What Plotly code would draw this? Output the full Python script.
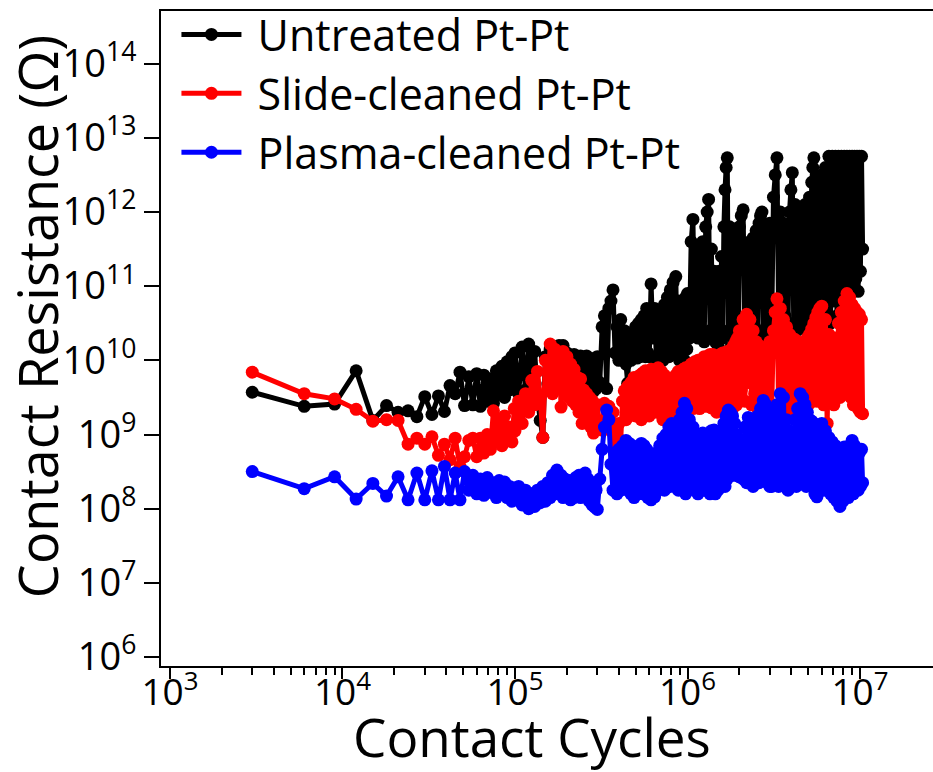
import plotly.graph_objects as go

# Contact cycles (in thousands of cycles)
cycles_k = (
    [3, 6, 9, 12, 15, 18, 21, 24, 27, 30, 33, 36, 39, 42, 45, 48, 51, 54, 57, 60,
     63, 66, 69, 72, 75, 78, 81, 84, 87, 90, 93, 96, 99]
    + [100, 105, 110, 115, 120, 125, 130, 135, 140, 145, 150, 155, 160, 165, 170,
       175, 180, 185, 190, 195, 200, 205, 210, 215, 220, 225, 230, 235, 240, 245,
       250, 255, 260, 265, 270, 275, 280, 285, 290, 295]
    + [300, 310, 320, 330, 340, 350, 360, 370, 380, 390, 400, 410, 420, 430, 440,
       450, 460, 470, 480, 490, 500, 510, 520, 530, 540, 550, 560, 570, 580, 590]
    + [600, 615, 630, 645, 660, 675, 690, 705, 720, 735, 750, 765, 780, 795, 810,
       825, 840, 855, 870, 885, 900, 915, 930, 945, 960, 975, 990]
    + [1000, 1025, 1050, 1075, 1100, 1125, 1150, 1175, 1200, 1225, 1250, 1275,
       1300, 1325, 1350, 1375, 1400, 1425, 1450, 1475, 1500, 1525, 1550, 1575,
       1600, 1625, 1650, 1675, 1700, 1725, 1750, 1775, 1800, 1825, 1850, 1875,
       1900, 1925, 1950, 1975, 2000]
    + [2050, 2100, 2150, 2200, 2250, 2300, 2350, 2400, 2450, 2500, 2550, 2600,
       2650, 2700, 2750, 2800, 2850, 2900, 2950, 3000]
    + [3075, 3150, 3225, 3300, 3375, 3450, 3525, 3600, 3675, 3750, 3825, 3900,
       3975, 4050, 4125, 4200, 4275, 4350, 4425, 4500, 4575, 4650, 4725, 4800,
       4875, 4950, 5025, 5100, 5175, 5250, 5325, 5400, 5475, 5550, 5625, 5700,
       5775, 5850, 5925, 6000]
    + [6150, 6300, 6450, 6600, 6750, 6900, 7050, 7200, 7350, 7500, 7650, 7800,
       7950, 8100, 8250, 8400, 8550, 8700, 8850, 9000, 9150, 9300, 9450, 9600,
       9750, 9900, 10050, 10200, 10350]
)

# log10 of contact resistance (Ohm)
untreated_log = (
    [9.57, 9.38, 9.41, 9.86, 9.19, 9.39, 9.30, 9.32, 9.24, 9.51, 9.27, 9.52, 9.31,
     9.66, 9.55, 9.84, 9.39, 9.78, 9.40, 9.82, 9.38, 9.80, 9.45, 9.75, 9.42, 9.86,
     9.55, 9.92, 9.50, 9.98, 9.60, 10.05, 9.62]
    + [10.10, 9.55, 10.18, 9.60, 10.22, 9.65, 10.12, 9.50, 9.19, 8.96, 10.05, 9.68,
       10.15, 9.62, 10.18, 9.70, 10.20, 9.65, 10.20, 9.72, 10.10, 9.60, 10.05, 9.65,
       10.08, 9.58, 10.02, 9.70, 10.06, 9.62, 10.00, 9.68, 10.06, 9.60, 9.98, 9.65,
       10.02, 9.58, 9.95, 9.62]
    + [10.05, 9.70, 10.45, 10.60, 9.62, 10.70, 10.80, 10.95, 10.10, 10.45, 10.00,
       10.55, 10.05, 10.40, 9.95, 9.69, 10.30, 10.00, 10.35, 10.05, 10.45, 10.03,
       10.50, 10.05, 10.55, 10.10, 10.60, 10.05, 10.70, 10.10]
    + [10.05, 11.03, 10.30, 10.70, 10.00, 10.55, 10.05, 10.65, 10.00, 10.75, 10.10,
       10.85, 10.05, 10.95, 10.15, 11.05, 10.20, 11.13, 10.10, 10.80, 10.00, 10.60,
       10.05, 10.70, 10.00, 10.85, 10.15]
    + [10.90, 10.30, 11.60, 11.90, 10.40, 11.55, 10.30, 11.46, 10.35, 11.60, 10.25,
       11.80, 12.00, 12.17, 10.40, 11.50, 10.30, 11.20, 10.25, 11.10, 10.20, 11.20,
       10.35, 11.40, 10.30, 11.80, 12.30, 12.60, 12.73, 10.40, 11.80, 10.17, 11.60,
       10.35, 11.60, 10.30, 11.60, 10.40, 11.70, 10.35, 11.80]
    + [11.95, 12.03, 10.35, 11.50, 10.50, 11.60, 10.25, 11.65, 10.45, 11.75, 10.30,
       11.85, 11.95, 12.00, 10.40, 11.70, 10.30, 11.80, 10.50, 11.85]
    + [10.45, 12.20, 12.50, 12.73, 10.50, 12.00, 10.40, 11.85, 10.60, 11.80, 10.45,
       12.00, 12.30, 12.53, 10.50, 12.10, 10.40, 12.00, 10.60, 12.05, 10.45, 12.00,
       10.55, 12.10, 10.40, 12.10, 10.65, 12.20, 10.50, 12.40, 12.60, 12.73, 10.60,
       12.30, 10.50, 12.30, 10.75, 12.40, 10.55, 12.50]
    + [10.40, 12.60, 10.60, 12.75, 10.50, 12.75, 10.80, 12.75, 10.60, 12.75, 10.90,
       12.75, 10.70, 12.75, 11.00, 12.75, 10.90, 12.75, 11.05, 12.75, 10.95, 12.75,
       11.10, 12.75, 10.93, 12.75, 11.20, 12.75, 11.50]
)

slide_log = (
    [9.84, 9.55, 9.48, 9.34, 9.18, 9.20, 9.19, 8.87, 8.95, 8.87, 8.97, 8.72, 8.87,
     8.66, 8.95, 8.57, 8.70, 8.92, 8.95, 8.70, 8.95, 8.75, 9.00, 8.80, 9.32, 8.90,
     9.20, 8.85, 9.25, 8.95, 9.10, 8.90, 9.35]
    + [9.05, 9.45, 9.15, 9.55, 9.30, 9.73, 9.40, 9.85, 9.50, 8.96, 10.00, 9.60, 10.22,
       9.55, 10.15, 9.65, 10.10, 9.37, 10.12, 9.55, 10.05, 9.50, 9.95, 9.45, 9.88,
       9.40, 9.77, 9.30, 9.75, 9.15, 9.60, 9.30, 9.55, 9.20, 9.50, 9.10, 9.46, 9.02,
       9.40, 9.15]
    + [9.40, 9.10, 9.06, 9.42, 9.12, 9.38, 9.05, 9.30, 9.00, 8.88, 9.15, 8.92, 9.45,
       9.59, 9.20, 9.65, 9.25, 9.70, 9.30, 9.77, 9.25, 9.75, 9.30, 9.80, 9.20, 9.83,
       9.30, 9.86, 9.35, 9.82]
    + [9.25, 9.88, 9.40, 9.85, 9.30, 9.90, 9.35, 9.85, 9.20, 9.80, 9.30, 9.72, 9.25,
       9.75, 9.35, 9.72, 9.20, 9.80, 9.30, 9.85, 9.25, 9.82, 9.33, 9.88, 9.30, 9.90,
       9.33]
    + [9.90, 9.40, 9.95, 9.35, 9.98, 9.45, 10.00, 9.35, 10.00, 9.42, 10.05, 9.38,
       10.05, 9.45, 10.08, 9.36, 10.08, 9.42, 10.05, 9.30, 10.05, 9.40, 10.08, 9.35,
       10.10, 9.45, 10.10, 9.30, 10.12, 9.40, 10.12, 9.50, 10.15, 9.35, 10.20, 9.45,
       10.25, 9.40, 10.30, 9.55, 10.40]
    + [9.60, 10.55, 9.45, 10.62, 9.70, 10.55, 9.40, 10.40, 9.55, 10.25, 9.35, 10.20,
       9.50, 10.15, 9.40, 10.12, 9.30, 10.15, 9.35, 10.25]
    + [9.35, 10.40, 10.65, 10.83, 9.30, 10.70, 9.45, 10.55, 9.35, 10.45, 9.40, 10.35,
       9.33, 10.30, 9.45, 10.28, 9.40, 10.25, 9.50, 10.22, 9.40, 10.20, 9.45, 10.22,
       9.50, 10.30, 9.40, 10.35, 9.55, 10.42, 9.45, 10.50, 9.50, 10.58, 9.45, 10.65,
       9.60, 10.70, 9.50, 10.73]
    + [9.40, 10.55, 9.15, 10.35, 9.50, 10.20, 9.40, 10.30, 9.60, 10.50, 9.50, 10.65,
       9.70, 10.80, 9.60, 10.90, 9.69, 10.85, 9.50, 10.75, 9.40, 10.70, 9.55, 10.65,
       9.35, 10.62, 9.30, 10.55, 9.28]
)

plasma_log = (
    [8.50, 8.27, 8.43, 8.13, 8.34, 8.17, 8.43, 8.12, 8.48, 8.12, 8.51, 8.12, 8.57,
     8.12, 8.48, 8.12, 8.50, 8.25, 8.45, 8.20, 8.40, 8.18, 8.42, 8.22, 8.35, 8.15,
     8.38, 8.20, 8.36, 8.15, 8.30, 8.10, 8.28]
    + [8.12, 8.30, 8.05, 8.25, 8.00, 8.20, 8.03, 8.25, 8.08, 8.30, 8.10, 8.35, 8.15,
       8.45, 8.20, 8.52, 8.22, 8.45, 8.15, 8.40, 8.18, 8.38, 8.12, 8.35, 8.15, 8.42,
       8.20, 8.45, 8.15, 8.40, 8.22, 8.48, 8.18, 8.40, 8.10, 8.35, 8.05, 8.30, 8.02,
       8.25]
    + [7.99, 8.40, 8.80, 9.10, 9.33, 9.20, 8.60, 8.25, 8.75, 8.20, 8.80, 8.25, 8.85,
       8.30, 8.92, 8.25, 8.88, 8.20, 8.85, 8.15, 8.80, 8.20, 8.82, 8.25, 8.88, 8.20,
       8.85, 8.25, 8.80, 8.15]
    + [8.70, 8.12, 8.60, 8.16, 8.75, 8.25, 8.85, 8.30, 8.95, 8.25, 9.00, 8.35, 9.10,
       8.30, 9.15, 8.40, 9.05, 8.30, 9.00, 8.25, 9.20, 8.35, 9.30, 8.28, 9.42, 8.20,
       9.35]
    + [8.25, 9.20, 8.30, 9.10, 8.25, 8.95, 8.20, 8.93, 8.30, 9.02, 8.25, 8.95, 8.35,
       9.00, 8.20, 9.05, 8.25, 9.06, 8.20, 9.00, 8.25, 8.95, 8.30, 9.05, 8.35, 9.15,
       8.30, 9.25, 8.40, 9.33, 8.45, 9.30, 8.45, 9.25, 8.50, 9.15, 8.45, 9.00, 8.50,
       8.90, 8.43]
    + [8.90, 8.40, 9.10, 8.35, 9.23, 8.45, 9.20, 8.30, 9.10, 8.40, 9.25, 8.35, 9.35,
       8.45, 9.46, 8.50, 9.40, 8.35, 9.30, 8.30]
    + [8.30, 9.30, 8.35, 9.40, 8.30, 9.55, 8.40, 9.50, 8.35, 9.20, 8.25, 9.05, 8.30,
       9.00, 8.35, 9.20, 8.30, 9.35, 8.40, 9.55, 8.35, 9.50, 8.45, 9.40, 8.30, 9.30,
       8.35, 9.20, 8.40, 9.18, 8.30, 9.15, 8.20, 9.12, 8.16, 9.10, 8.25, 9.12, 8.30,
       9.15]
    + [8.25, 9.05, 8.35, 8.96, 8.20, 8.90, 8.15, 8.85, 8.10, 8.70, 8.03, 8.75, 8.10,
       8.83, 8.20, 8.80, 8.15, 8.85, 8.25, 8.92, 8.20, 8.85, 8.30, 8.80, 8.25, 8.75,
       8.30, 8.80, 8.35]
)

series_names = ["Untreated Pt-Pt", "Slide-cleaned Pt-Pt", "Plasma-cleaned Pt-Pt"]
series_colors = ["#000000", "#ff0000", "#0000ff"]

x_tick_vals = [1e3, 1e4, 1e5, 1e6, 1e7]
x_tick_text = ["10<sup>3</sup>", "10<sup>4</sup>", "10<sup>5</sup>", "10<sup>6</sup>", "10<sup>7</sup>"]
y_tick_vals = [1e6, 1e7, 1e8, 1e9, 1e10, 1e11, 1e12, 1e13, 1e14]
y_tick_text = ["10<sup>%d</sup>" % e for e in range(6, 15)]

for arr in (untreated_log, slide_log, plasma_log):
    assert len(arr) == len(cycles_k), (len(arr), len(cycles_k))

cycles = [c * 1000 for c in cycles_k]
FONT = "Open Sans, Noto Sans, sans-serif"

fig = go.Figure()
for name, color, ylog in zip(series_names, series_colors, [untreated_log, slide_log, plasma_log]):
    fig.add_trace(go.Scatter(
        x=cycles, y=[10 ** v for v in ylog], name=" " + name, mode="lines+markers",
        line=dict(color=color, width=5, simplify=False), marker=dict(color=color, size=13),
    ))

minor_vals = [m * 10 ** e for e in range(3, 7) for m in range(2, 10)]

fig.update_layout(
    width=933, height=772,
    margin=dict(l=161, r=0, t=7, b=106),
    paper_bgcolor="white", plot_bgcolor="white",
    font=dict(family=FONT, color="black"),
    showlegend=True,
    legend=dict(x=0.02, y=1.017, xanchor="left", yanchor="top",
                font=dict(size=43, family=FONT, color="black"),
                bgcolor="rgba(0,0,0,0)", itemwidth=60, tracegroupgap=0),
    xaxis=dict(type="log", range=[2.948, 7.423], showgrid=False, zeroline=False,
               showline=True, linecolor="black", linewidth=2, mirror=True,
               ticks="outside", ticklen=11, tickwidth=2, tickcolor="black",
               tickvals=x_tick_vals, ticktext=x_tick_text, ticklabelstandoff=-18,
               tickfont=dict(size=37, family=FONT, color="black"),
               minor=dict(tickvals=minor_vals, ticks="outside", ticklen=7,
                          tickwidth=2, tickcolor="black", showgrid=False)),
    yaxis=dict(type="log", range=[5.879, 14.71], showgrid=False, zeroline=False,
               showline=True, linecolor="black", linewidth=2,
               ticks="outside", ticklen=15, tickwidth=2, tickcolor="black",
               tickvals=y_tick_vals, ticktext=y_tick_text,
               tickfont=dict(size=38, family=FONT, color="black")),
    annotations=[
        dict(text="Contact Cycles", xref="paper", yref="paper",
             x=(532 - 161) / 772, y=(666 - 737) / 659, xanchor="center", yanchor="middle",
             showarrow=False, font=dict(size=53, family=FONT, color="black")),
        dict(text="Contact Resistance (Ω)", xref="paper", yref="paper",
             x=(37 - 161) / 772, y=(666 - 315) / 659, xanchor="center", yanchor="middle",
             textangle=-90, showarrow=False, font=dict(size=54, family=FONT, color="black")),
    ],
)

fig.write_html("out.html")
